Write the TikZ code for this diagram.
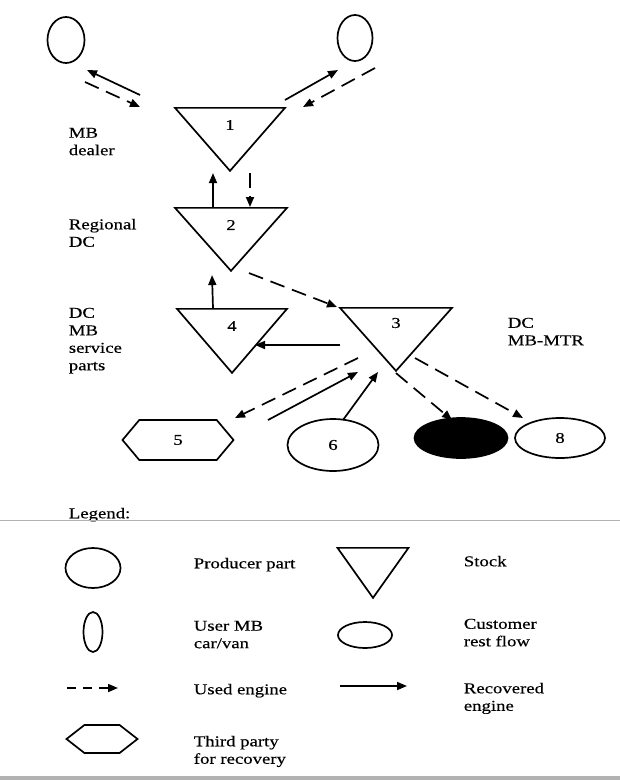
\documentclass[tikz,border=0pt]{standalone}
\usepackage{fontspec}
\setmainfont{Liberation Serif}[FakeStretch=1.25,FakeBold=0.4]
\usetikzlibrary{arrows.meta,shapes.geometric,shapes.symbols,calc}

\begin{document}
\begin{tikzpicture}[
x=1pt,y=-1pt,
line width=1.7pt,
font=\fontsize{15}{17.5}\selectfont,
stock/.style={draw,isosceles triangle,isosceles triangle stretches,
shape border rotate=270,anchor=north,inner sep=0pt},
oval/.style={draw,ellipse,inner sep=0pt},
party/.style={draw,signal,signal to=east and west,inner sep=0pt},
txt/.style={anchor=north west,align=left,inner sep=0pt},
used/.style={-{Triangle[length=10pt,width=8pt]},dash pattern=on 15pt off 8pt},
rec/.style={-{Triangle[length=10pt,width=8pt]}}
]
\useasboundingbox (0,0) rectangle (620,780);

% network
\node[oval,minimum width=37pt,minimum height=46pt] (car1) at (66,40) {};
\node[oval,minimum width=35pt,minimum height=46pt] (car2) at (355,38) {};
\node[stock,minimum width=110pt,minimum height=63pt] (dealer) at (230,107) {};
\node[stock,minimum width=112pt,minimum height=63pt] (regional) at (231,207) {};
\node[stock,minimum width=110pt,minimum height=64pt] (service) at (232,308) {};
\node[stock,minimum width=112pt,minimum height=63pt] (mtr) at (396,307) {};
\node[party,minimum width=111pt,minimum height=40pt,signal pointer angle=100] (third) at (178,440) {5};
\node[oval,minimum width=91pt,minimum height=52pt] (producer) at (333,445) {6};
\node[oval,fill=black,minimum width=93pt,minimum height=40pt] (rest) at (461,438) {};
\node[oval,minimum width=90pt,minimum height=40pt] (customer) at (560,438) {8};

\node (n1) at ($(dealer.north)+(0,18)$) {1};
\node (n2) at ($(regional.north)+(0,18)$) {2};
\node (n4) at ($(service.north)+(0,18)$) {4};
\node (n3) at ($(mtr.north)+(0,16)$) {3};

\node[txt] (ldealer) at (68,127) {MB\\dealer};
\node[txt] (lregional) at (68,218) {Regional\\DC};
\node[txt] (lservice) at (68,307) {DC\\MB\\service\\parts};
\node[txt] (lmtr) at (507,317) {DC\\MB-MTR};

% flows
\draw[rec] ($(dealer.north)+(-90,-12)$) -- ($(car1)+(21,30)$);
\draw[used] ($(car1)+(19,42)$) -- ($(dealer.north)+(-90,0)$);
\draw[rec] ($(dealer.north)+(55,-7)$) -- ($(car2)+(-17,32)$);
\draw[used] ($(car2)+(20,30)$) -- ($(dealer.north)+(73,0)$);
\draw[rec] ($(regional.north)+(-18,0)$) -- ($(dealer.apex)+(-17,0)$);
\draw[used] ($(dealer.apex)+(20,0)$) -- ($(regional.north)+(19,0)$);
\draw[rec] ($(service.north)+(-19,0)$) -- ($(regional.apex)+(-19,2)$);
\draw[used] ($(regional.apex)+(18,0)$) -- ($(mtr.north)+(-59,0)$);
\draw[rec] ($(mtr.north)+(-56,38)$) -- ($(service.north)+(23,37)$);
\draw[used] ($(mtr.north)+(-38,51)$) -- ($(third)+(57,-22)$);
\draw[rec] ($(third)+(90,-20)$) -- ($(mtr.north)+(-38,65)$);
\draw[rec] ($(producer)+(10,-25)$) -- ($(mtr.north)+(-18,65)$);
\draw[used] (mtr.apex) -- ($(rest)+(-9,-18)$);
\draw[used] ($(mtr.north)+(19,51)$) -- ($(customer)+(-37,-20)$);

% legend
\node[txt] (legend) at (68,507) {Legend:};
\draw[gray!60,line width=0.8pt] (0,520) coordinate (sepl) -- (620,520) coordinate (sepr);

\node[oval,minimum width=55pt,minimum height=40pt] (kproducer) at (93,568) {};
\node[txt] (tproducer) at (193,557) {Producer part};
\node[stock,minimum width=71pt,minimum height=50pt] (kstock) at (373,547) {};
\node[txt] (tstock) at (463,555) {Stock};
\node[oval,minimum width=19pt,minimum height=40pt] (kcar) at (93,632) {};
\node[txt] (tcar) at (193,620) {User MB\\car/van};
\node[oval,minimum width=54pt,minimum height=26pt] (kcustomer) at (365,635) {};
\node[txt] (tcustomer) at (463,618) {Customer\\rest flow};
\coordinate (kused1) at (67,688);
\coordinate (kused2) at (118,688);
\draw[used,dash pattern=on 9pt off 7pt] (kused1) -- (kused2);
\node[txt] (tused) at (193,683) {Used engine};
\coordinate (krec1) at (340,686);
\coordinate (krec2) at (407,686);
\draw[rec] (krec1) -- (krec2);
\node[txt] (trec) at (463,682) {Recovered\\engine};
\node[party,minimum width=71pt,minimum height=28pt,signal pointer angle=76] (kthird) at (102,739) {};
\node[txt] (tthird) at (193,735) {Third party\\for recovery};

\fill[gray!60] (0,776) rectangle (620,780);
\end{tikzpicture}
\end{document}
